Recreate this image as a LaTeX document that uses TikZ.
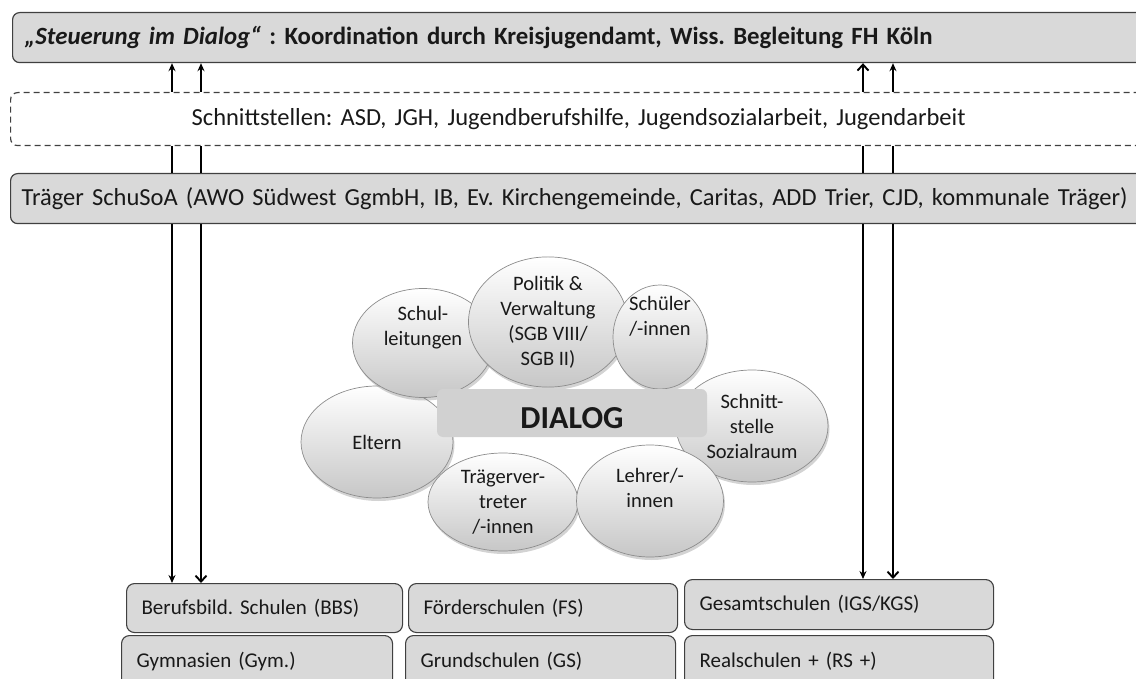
\documentclass[tikz,border=0pt]{standalone}
\usepackage{fontspec}
\setmainfont{Carlito}
\frenchspacing
\usetikzlibrary{arrows.meta,shapes.geometric,shadows}

\tikzset{
  band/.style={draw=black!75, line width=1.2pt, fill=black!15, rounded corners=7pt,
    anchor=north west, align=left, inner xsep=14pt, text=black!90},
  linkbox/.style={band, fill=white, dash pattern=on 6pt off 4pt, align=center, inner xsep=0pt},
  school/.style={draw=black!75, line width=1.1pt, fill=black!15, rounded corners=8pt,
    anchor=north west, align=left, inner xsep=15pt, text=black!90,
    font=\fontsize{21}{25}\selectfont},
  bubble/.style={ellipse, draw=black!45, line width=.7pt, inner sep=0pt,
    top color=white, middle color=black!9, bottom color=black!22,
    drop shadow={shadow xshift=1.5pt, shadow yshift=-3pt, opacity=.35},
    align=center, text=black!90, font=\fontsize{20.5}{25}\selectfont},
  tri/.style={line width=1.4pt, -{Stealth[length=8pt,width=7pt]}},
  barb/.style={line width=1.9pt, -{Straight Barb[length=6pt,width=11pt]}},
  bare/.style={line width=1.9pt},
}

\begin{document}
\begin{tikzpicture}[x=1pt, y=-1pt, font=\fontsize{24.5}{29}\selectfont,
  every label/.style={align=center, text=black!90, font=\fontsize{20.5}{25}\selectfont}]
  \useasboundingbox (0,0) rectangle (1136,679);
  \clip (0,0) rectangle (1136,679);

  % upper bands
  \node[band, text width=1140pt, minimum height=50pt, inner xsep=12pt, font=\bfseries\fontsize{24.8}{29}\selectfont] (title) at (12,12)
    {\textit{„Steuerung im Dialog“} : Koordination durch Kreisjugendamt, Wiss. Begleitung FH Köln};
  \node[linkbox, text width=1136pt, minimum height=53pt] (links) at (10,92)
    {Schnittstellen: ASD, JGH, Jugendberufshilfe, Jugendsozialarbeit, Jugendarbeit};
  \node[band, text width=1140pt, minimum height=50pt, inner xsep=11pt] (traeger) at (10,173)
    {Träger SchuSoA (AWO Südwest GgmbH, IB, Ev. Kirchengemeinde, Caritas, ADD Trier, CJD, kommunale Träger)};

  % schools
  \node[school, text width=246pt, minimum height=49pt] (bbs) at (126,583) {Berufsbild. Schulen (BBS)};
  \node[school, text width=239pt, minimum height=49pt] (foerder) at (408,583) {Förderschulen (FS)};
  \node[school, text width=279pt, minimum height=50pt] (gesamt) at (684,579) {Gesamtschulen (IGS/KGS)};
  \node[school, text width=241pt, minimum height=52pt] (gym) at (121,635) {Gymnasien (Gym.)};
  \node[school, text width=240pt, minimum height=52pt] (grund) at (405,635) {Grundschulen (GS)};
  \node[school, text width=279pt, minimum height=52pt] (real) at (684,635) {Realschulen + (RS +)};

  % dialog circle
  \node[bubble, minimum width=152pt, minimum height=112pt] (schnitt) at (752,426) {Schnitt-\\stelle\\Sozialraum};
  \node[bubble, minimum width=152pt, minimum height=112pt] (eltern) at (377,442) {Eltern};
  \node[bubble, minimum width=141pt, minimum height=109pt, label={[yshift=15pt]center:{Schul-\\leitungen}}] (schul) at (423,343) {};
  \node[bubble, minimum width=159pt, minimum height=124pt] (politik) at (548,322) {Politik \&\\Verwaltung\\(SGB VIII/\\SGB II)};
  \node[bubble, minimum width=94pt, minimum height=104pt, label={[yshift=21pt]center:{Schüler\\/-innen}}] (schueler) at (660,337) {};
  \node[bubble, minimum width=150pt, minimum height=98pt] (vertreter) at (503,502) {Trägerver-\\treter\\/-innen};
  \node[bubble, minimum width=147pt, minimum height=112pt, label={[yshift=13pt]center:{Lehrer/-\\innen}}] (lehrer) at (650,501) {};
  \node[fill=black!18, rounded corners=6pt, minimum width=270pt, minimum height=48pt, inner sep=0pt,
    text height=30pt, text depth=0pt, text=black!90,
    font=\bfseries\fontsize{32}{36}\selectfont] (dialog) at (572,413) {DIALOG};

  % connectors
  \coordinate (la) at (172,0);
  \coordinate (lb) at (201,0);
  \coordinate (ra) at (863,0);
  \coordinate (rb) at (893,0);
  \draw[tri]  (links.north -| la) -- (title.south -| la);
  \draw[tri]  (links.north -| lb) -- (title.south -| lb);
  \draw[barb] (links.north -| ra) -- (title.south -| ra);
  \draw[tri]  (links.north -| rb) -- (title.south -| rb);
  \draw[bare] (traeger.north -| la) -- (links.south -| la);
  \draw[bare] (traeger.north -| lb) -- (links.south -| lb);
  \draw[bare] (traeger.north -| ra) -- (links.south -| ra);
  \draw[bare] (traeger.north -| rb) -- (links.south -| rb);
  \draw[tri]  (traeger.south -| la) -- (bbs.north -| la);
  \draw[barb] (traeger.south -| lb) -- (bbs.north -| lb);
  \draw[tri]  (traeger.south -| ra) -- (gesamt.north -| ra);
  \draw[barb] (traeger.south -| rb) -- (gesamt.north -| rb);
\end{tikzpicture}
\end{document}
